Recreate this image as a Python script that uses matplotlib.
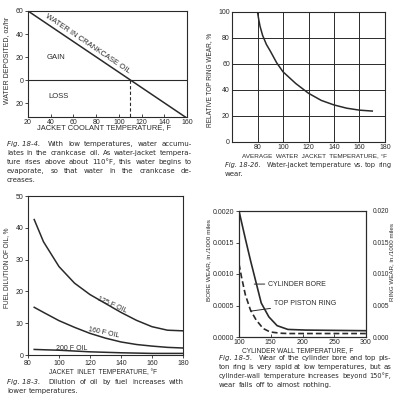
import matplotlib.pyplot as plt

plt.rcParams['font.family'] = ['Liberation Sans', 'DejaVu Sans']
plt.rcParams['font.size'] = 5
ink = '#2a2a2a'
plt.rcParams['text.color'] = ink
plt.rcParams['axes.edgecolor'] = ink
plt.rcParams['xtick.color'] = ink
plt.rcParams['ytick.color'] = ink
plt.rcParams['axes.linewidth'] = 0.8

# Fig. 18-4: water deposited vs jacket coolant temperature
coolant_temp = [20, 160]
water_deposited = [60, -33]
evap_temp = 110

# Fig. 18-26: relative top ring wear
jacket_temp = [80, 81, 82, 84, 87, 90, 95, 100, 110, 120, 130, 140, 150, 160, 170]
ring_wear = [100, 94, 89, 82, 75, 70, 61, 54, 45, 37.5, 32, 28.5, 26, 24.5, 23.8]

# Fig. 18-3: fuel dilution of oil
inlet_temp = [84, 90, 100, 110, 120, 130, 140, 150, 160, 170, 180]
dil_125 = [42.6, 35.6, 27.8, 22.6, 19.0, 16.2, 13.4, 10.9, 8.9, 7.8, 7.6]
dil_160 = [15.0, 13.4, 10.8, 8.7, 6.8, 5.3, 4.1, 3.3, 2.8, 2.4, 2.2]
dil_200 = [1.75, 1.65, 1.5, 1.25, 1.0, 0.85, 0.7, 0.6, 0.5, 0.5, 0.5]

# Fig. 18-5: cylinder bore / top ring wear
wall_temp = [100, 105, 110, 118, 127, 135, 147, 160, 177, 205, 250, 300]
bore_wear = [0.0020, 0.00178, 0.00156, 0.00122, 0.00086, 0.00054, 0.00032, 0.00018, 0.00012, 0.00011, 0.000105, 0.0001]
ring_temp = [100, 104, 110, 118, 127, 138, 149, 165, 178, 300]
ring_wear_r = [0.0116, 0.0095, 0.0067, 0.0043, 0.0027, 0.00135, 0.0008, 0.0006, 0.00055, 0.00055]

captions = [
    (7, 192, 144, 'Fig. 18-4.',
     ['With low temperatures, water accumu-',
      'lates in the crankcase oil. As water-jacket tempera-',
      'ture rises above about 110\u00b0F, this water begins to',
      'evaporate, so that water in the crankcase de-',
      'creases.']),
    (225, 391, 165, 'Fig. 18-26.',
     ['Water-jacket temperature vs. top ring', 'wear.']),
    (7, 184, 382, 'Fig. 18-3.',
     ['Dilution of oil by fuel increases with', 'lower temperatures.']),
    (219, 391, 358, 'Fig. 18-5.',
     ['Wear of the cylinder bore and top pis-',
      'ton ring is very rapid at low temperatures, but as',
      'cylinder-wall temperature increases beyond 150\u00b0F,',
      'wear falls off to almost nothing.']),
]
cap_font = 'DejaVu Sans'

W, H = 400, 396
fig = plt.figure(figsize=(4, 3.96), dpi=100)
rend = fig.canvas.get_renderer()


def axes_px(l, t, r, b):
    return fig.add_axes([l / W, 1 - b / H, (r - l) / W, (b - t) / H])


def style(ax):
    ax.tick_params(length=2, width=0.6, pad=1.5, labelsize=5)


def label(x, y, s, rot=0, size=5.2):
    fig.text(x / W, 1 - y / H, s, ha='center', va='center', rotation=rot, fontsize=size)


def line_items(lead, lines, i):
    items = [(lead, 'italic')] if i == 0 else []
    return items + [(w, 'normal') for w in lines[i].split()]


def place_line(x0, x1, y, items, size, justify, extra0):
    arts = [fig.text(0, 1 - y / H, s, style=st, va='center', fontsize=size, family=cap_font)
            for s, st in items]
    widths = [a.get_window_extent(rend).width for a in arts]
    extra = [extra0] + [0.0] * (len(arts) - 1)
    gap = 2.4
    if justify:
        gap = (x1 - x0 - sum(widths) - sum(extra)) / (len(arts) - 1)
    return arts, widths, extra, gap


def fit_sizes(s0=5.5, mingap=2.6, lead_extra=4.0):
    sizes = []
    for x0, x1, y0, lead, lines in captions:
        for i in range(len(lines) - 1):
            arts, ws, ex, g = place_line(x0, x1, 0, line_items(lead, lines, i), s0, True,
                                         lead_extra if i == 0 else 0.0)
            for a in arts:
                a.remove()
            sizes.append(s0 * (x1 - x0 - sum(ex) - mingap * (len(ws) - 1)) / sum(ws))
    sizes.sort()
    return sizes[len(sizes) // 2]


def caption(x0, x1, y0, lead, lines, size, dy=8.9, lead_extra=4.0):
    for i in range(len(lines)):
        last = i == len(lines) - 1
        extra0 = lead_extra if i == 0 else 0.0
        s = size
        while True:
            arts, ws, ex, gap = place_line(x0, x1, y0 + i * dy, line_items(lead, lines, i), s,
                                           not last, extra0)
            if last or gap >= 1.4:
                break
            for a in arts:
                a.remove()
            s *= 0.97
        x = x0
        for a, w, e in zip(arts, ws, ex):
            a.set_x(x / W)
            x += w + gap + e


# ---- top left
ax1 = axes_px(28, 11, 187, 117)
ax1.plot(coolant_temp, water_deposited, color=ink, lw=1.1)
ax1.axhline(0, color=ink, lw=0.8)
ax1.plot([evap_temp, evap_temp], [0, -32], color=ink, lw=0.8, ls=(0, (3, 2)))
ax1.set_xlim(20, 160)
ax1.set_ylim(-32, 60)
ax1.set_xticks(range(20, 161, 20))
ax1.set_yticks([-20, 0, 20, 40, 60])
ax1.set_yticklabels(['20', '0', '20', '40', '60'])
ax1.text(45, 20, 'GAIN', ha='center', va='center', fontsize=5.5)
ax1.text(47, -14.5, 'LOSS', ha='center', va='center', fontsize=5.5)
ax1.text(72, 31, 'WATER IN CRANKCASE OIL', ha='center', va='center', fontsize=5.5,
         rotation=-33.7, rotation_mode='anchor', transform_rotates_text=True)
style(ax1)
ax1.tick_params(axis='x', direction='in', pad=1.2)
label(104, 128, 'JACKET COOLANT TEMPERATURE, F', size=5.4)
label(7, 60, 'WATER DEPOSITED, oz/hr', rot=90, size=5)

# ---- top right
ax2 = axes_px(232, 12, 385, 142)
ax2.plot(jacket_temp, ring_wear, color=ink, lw=1.1)
ax2.set_xlim(60, 180)
ax2.set_ylim(0, 100)
ax2.set_xticks(range(80, 181, 20))
ax2.set_yticks(range(0, 101, 20))
ax2.grid(True, color=ink, lw=0.7)
style(ax2)
ax2.tick_params(length=0, pad=1.5)
label(314, 155.5, 'AVERAGE  WATER  JACKET  TEMPERATURE, \u00b0F', size=4.6)
label(210, 80, 'RELATIVE TOP RING WEAR, %', rot=90, size=4.7)

# ---- bottom left
ax3 = axes_px(28, 196, 183, 355)
for y, lab, xy, rot in [(dil_125, '125 F OIL', (134, 15.8), -24),
                        (dil_160, '160 F OIL', (129, 7.0), -12),
                        (dil_200, '200 F OIL', (108, 2.0), 0)]:
    ax3.plot(inlet_temp, y, color=ink, lw=1.1)
    ax3.text(xy[0], xy[1], lab, ha='center', va='center', fontsize=5, rotation=rot)
ax3.set_xlim(80, 180)
ax3.set_ylim(0, 50)
ax3.set_xticks(range(80, 181, 20))
ax3.set_yticks(range(0, 51, 10))
style(ax3)
label(103, 373, 'JACKET  INLET  TEMPERATURE, \u00b0F', size=4.7)
label(7, 268, 'FUEL DILUTION OF OIL, %', rot=90, size=4.7)

# ---- bottom right
ax4 = axes_px(239, 211, 366, 337)
ax4.plot(wall_temp, bore_wear, color=ink, lw=1.2)
ax4.set_xlim(100, 300)
ax4.set_ylim(0, 0.002)
ax4.set_xticks(range(100, 301, 50))
ax4.set_yticks([0, 0.0005, 0.001, 0.0015, 0.002])
ax4.set_yticklabels(['0.0000', '0.0005', '0.0010', '0.0015', '0.0020'])
style(ax4)
ax4.tick_params(axis='x', direction='in', pad=1.5)
ax4r = ax4.twinx()
ax4r.plot(ring_temp, ring_wear_r, color=ink, lw=1.2, ls=(0, (3.5, 1.8)))
ax4r.set_ylim(0, 0.02)
ax4r.set_yticks([0, 0.005, 0.01, 0.015, 0.02])
ax4r.set_yticklabels(['0.000', '0.005', '0.010', '0.015', '0.020'])
style(ax4r)
ax4r.tick_params(axis='y', length=0, pad=5, labelsize=4.8)
ax4.annotate('CYLINDER BORE', xy=(124, 0.00084), xytext=(146, 0.00084),
             va='center', fontsize=5,
             arrowprops=dict(arrowstyle='-', color=ink, lw=0.7, shrinkA=0.5, shrinkB=0))
ax4.annotate('TOP PISTON RING', xy=(118, 0.00041), xytext=(155, 0.00053),
             va='center', fontsize=5,
             arrowprops=dict(arrowstyle='-', color=ink, lw=0.7, shrinkA=0.5, shrinkB=0))
label(298, 350.5, 'CYLINDER WALL TEMPERATURE, F', size=4.8)
label(209, 260, 'BORE WEAR, in./1000 miles', rot=90, size=4.6)
label(392, 262, 'RING WEAR, in./1000 miles', rot=90, size=4.5)

cap_size = fit_sizes()
for x0, x1, y0, lead, lines in captions:
    caption(x0, x1, y0, lead, lines, cap_size)

fig.savefig('out.png', dpi=100)
